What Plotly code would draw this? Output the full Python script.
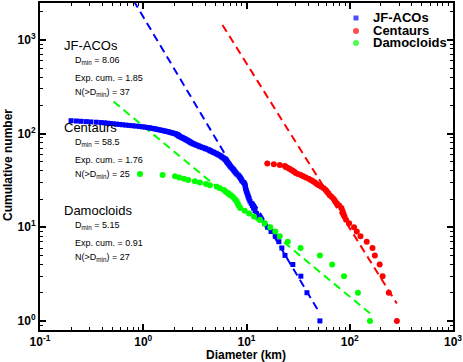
import plotly.graph_objects as go

# diameters (km), largest first -> cumulative number is the rank
jfaco_d = [51.4, 38.5, 33.6, 28.1, 23.6, 22.0, 20.6, 19.0, 17.3, 16.0,
           15.0, 13.9, 13.2, 12.5, 12.1, 11.7, 11.4, 11.1, 10.8, 10.6,
           10.4, 10.3, 10.15, 10.0, 9.9, 9.8, 9.75, 9.7, 9.6, 9.4,
           9.1, 8.95, 8.8, 8.65, 8.5, 8.3, 8.06, 7.9, 7.75, 7.6,
           7.5, 7.35, 7.2, 7.05, 6.95, 6.85, 6.75, 6.65, 6.55, 6.45,
           6.4, 6.3, 6.2, 6.1, 5.95, 5.8, 5.7, 5.55, 5.4, 5.25,
           5.1, 4.95, 4.8, 4.65, 4.5, 4.42, 4.3, 4.15, 4.0, 3.9,
           3.75, 3.6, 3.5, 3.4, 3.3, 3.2, 3.1, 3.05, 2.95, 2.9,
           2.85, 2.8, 2.75, 2.7, 2.65, 2.6, 2.55, 2.5, 2.45, 2.4,
           2.35, 2.3, 2.25, 2.22, 2.2, 2.17, 2.14, 2.12, 2.06, 2.0,
           1.94, 1.88, 1.82, 1.76, 1.7, 1.64, 1.58, 1.52, 1.46, 1.4,
           1.35, 1.3, 1.25, 1.2, 1.15, 1.1, 1.04, 0.98, 0.92, 0.85,
           0.79, 0.73, 0.68, 0.63, 0.59, 0.55, 0.51, 0.48, 0.45, 0.42,
           0.39, 0.35, 0.31, 0.28, 0.25, 0.225, 0.2]
centaur_d = [286, 239, 208, 195, 175, 166, 146, 127, 117, 110,
             98.6, 92, 89, 87, 85, 83, 79, 75, 72, 70,
             67, 64, 62, 60, 58.5, 56, 53, 50, 48, 46,
             44, 42, 40, 37.5, 35.5, 33.5, 31.5, 30, 29, 28,
             27, 26, 25, 24, 23.5, 21.0, 18.4, 15.9]
damocloid_d = [157, 120, 88, 67.6, 51.4, 33.4, 25.1, 21.0, 19.0, 17.0,
               15.0, 13.5, 11.8, 10.6, 9.6, 8.7, 8.4, 8.2, 8.0, 7.7,
               7.4, 7.1, 6.7, 6.3, 6.04, 5.53, 5.15, 4.42, 4.05, 3.54,
               3.16, 2.73, 2.48, 2.23, 2.03, 1.54, 0.93]

names = ["JF-ACOs", "Centaurs", "Damocloids"]
d_min = [8.06, 58.5, 5.15]
exp_cum = [1.85, 1.76, 0.91]
n_above = [37, 25, 27]

colors = ["#0000ff", "#ff0000", "#00ff00"]
symbols = ["square", "circle", "circle"]
sizes = [5, 6, 6]
datasets = [jfaco_d, centaur_d, damocloid_d]

W, H = 463, 362
L, R, T, B = 40, 10, 3, 32
PW, PH = W - L - R, H - T - B
FONT = "Liberation Sans, Arial, Helvetica"


def px(x):
    return (x - L) / PW


def py(y):
    return 1 - (y - T) / PH


fig = go.Figure()

# fitted power laws N = N0 (D/Dmin)^-b, drawn from Dmin/10 to Dmax
for i in range(3):
    dmax = max(datasets[i])
    xs = [d_min[i] / 10, dmax]
    ys = [n_above[i] * (x / d_min[i]) ** (-exp_cum[i]) for x in xs]
    fig.add_trace(go.Scatter(
        x=xs, y=ys, mode="lines", showlegend=False, hoverinfo="skip",
        line=dict(color=colors[i], width=2, dash="8px,5px"),
    ))

for i in range(3):
    d = datasets[i]
    fig.add_trace(go.Scatter(
        x=d, y=list(range(1, len(d) + 1)), mode="markers", name=names[i], showlegend=False,
        marker=dict(color=colors[i], symbol=symbols[i], size=sizes[i], line=dict(width=0)),
    ))

# hand-made legend on an overlay axis spanning the plot area in [0, 1]
legend_y = [18, 31, 43]
fig.add_trace(go.Scatter(
    x=[px(356)] * 3, y=[py(v) for v in legend_y], xaxis="x2", yaxis="y2",
    mode="markers", showlegend=False, hoverinfo="skip",
    marker=dict(color=colors, symbol=symbols, size=[5, 6, 6], line=dict(width=0)),
))
for i in range(3):
    fig.add_annotation(x=px(372), y=py(legend_y[i]), text="<b>%s</b>" % names[i],
                       font=dict(family=FONT, size=13, color="black"), borderpad=0)

# text blocks on the left
font_big = dict(family=FONT, size=13, color="black")
font_small = dict(family=FONT, size=9, color="black")
title_y = [45, 127, 210]
for i in range(3):
    y0 = title_y[i]
    fig.add_annotation(x=px(62), y=py(y0), text=names[i], font=font_big)
    fig.add_annotation(x=px(73), y=py(y0 + 16), text="D<sub>min</sub> = %s" % d_min[i], font=font_small)
    fig.add_annotation(x=px(73), y=py(y0 + 33), text="Exp. cum. = %.2f" % exp_cum[i], font=font_small)
    fig.add_annotation(x=px(73), y=py(y0 + 47), text="N(>D<sub>min</sub>) = %d" % n_above[i], font=font_small)
for a in fig.layout.annotations:
    a.update(xanchor="left")

# axis titles
fig.add_annotation(x=px(246), y=py(355), xanchor="center",
                   text="<b>Diameter (km)</b>", font=dict(family=FONT, size=12, color="black"))
fig.add_annotation(x=px(8), y=py(165), xanchor="center", textangle=-90,
                   text="<b>Cumulative number</b>", font=dict(family=FONT, size=12, color="black"))
fig.update_annotations(xref="paper", yref="paper", yanchor="middle", showarrow=False)

tick_font = dict(family=FONT, size=12, color="black", weight="bold")
axis_common = dict(
    type="log", showline=True, linewidth=2, linecolor="black", mirror="allticks",
    ticks="inside", ticklen=6, tickwidth=1.5, tickcolor="black", showgrid=False,
    zeroline=False, tickfont=tick_font, automargin=False,
    minor=dict(ticks="inside", ticklen=3, tickwidth=1, tickcolor="black", dtick="D1", showgrid=False),
)
fig.update_xaxes(
    range=[-1, 3], tickvals=[0.1, 1, 10, 100, 1000],
    ticktext=["10<sup>-1</sup>", "10<sup>0</sup>", "10<sup>1</sup>", "10<sup>2</sup>", "10<sup>3</sup>"],
    **axis_common,
)
fig.update_yaxes(
    range=[-0.097, 3.393], tickvals=[1, 10, 100, 1000],
    ticktext=["10<sup>0</sup>", "10<sup>1</sup>", "10<sup>2</sup>", "10<sup>3</sup>"],
    **axis_common,
)
fig.update_layout(
    width=W, height=H, margin=dict(l=L, r=R, t=T, b=B, autoexpand=False),
    plot_bgcolor="white", paper_bgcolor="white", showlegend=False,
    xaxis2=dict(overlaying="x", range=[0, 1], visible=False, fixedrange=True),
    yaxis2=dict(overlaying="y", range=[0, 1], visible=False, fixedrange=True),
)
# drop the page's default body margin so the figure sits at the window corner
fig.write_html("out.html", config={"displayModeBar": False},
               post_script="document.body.style.margin = '0';")
